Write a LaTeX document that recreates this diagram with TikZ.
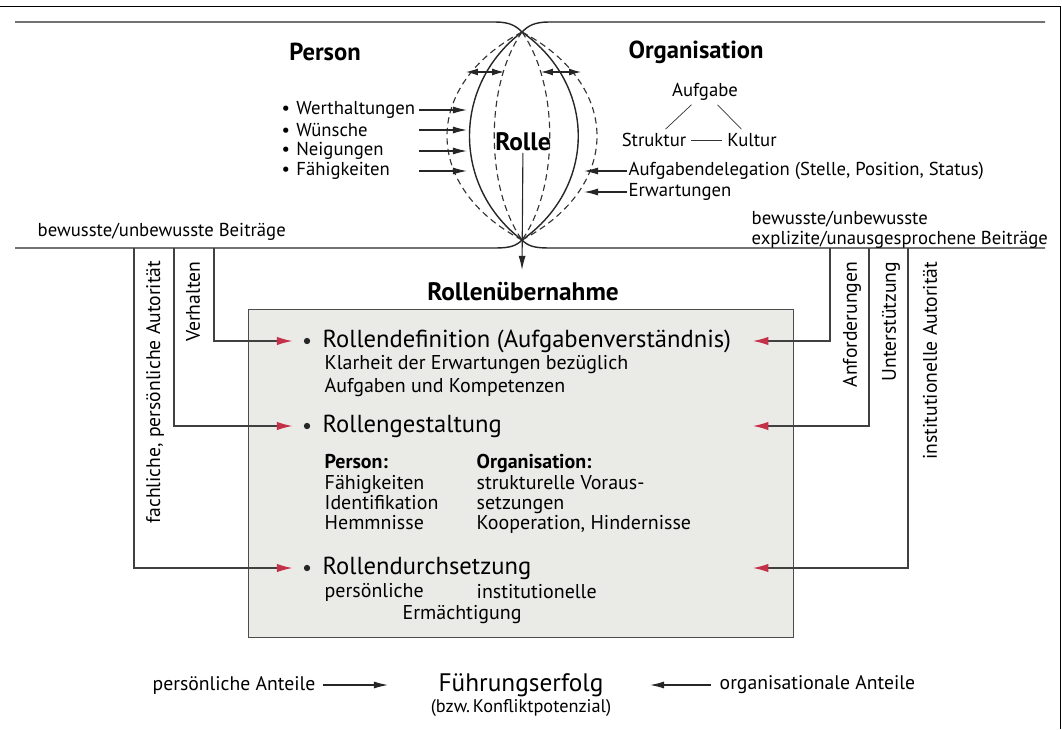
\documentclass[tikz,border=0pt]{standalone}
\usepackage{fontspec}
\setmainfont{PT Sans}
\usetikzlibrary{arrows.meta}
\definecolor{tipred}{RGB}{196,48,72}
\definecolor{boxgray}{RGB}{234,234,231}
\tikzset{
  frame/.style={line width=0.6pt, draw=black},
  lens/.style={line width=1pt, draw=black!85},
  lensdash/.style={line width=0.8pt, draw=black!80, dash pattern=on 4.5pt off 3pt},
  push/.style={line width=0.8pt, draw=black!85, -{Latex[length=10pt,width=5pt]}},
  spread/.style={line width=0.8pt, draw=black!85, {Latex[length=8.5pt,width=5pt]}-{Latex[length=8.5pt,width=5pt]}},
  feed/.style={line width=0.8pt, draw=black!75, -{Latex[length=11pt,width=6pt,color=tipred]}},
  twig/.style={line width=0.5pt, draw=black!80, shorten <=2.5pt, shorten >=2.5pt},
  heading/.style={font=\fontsize{17.5}{20}\selectfont\bfseries, inner sep=1pt},
  plain/.style={font=\fontsize{13.3}{14.5}\selectfont, inner sep=1pt},
  item/.style={font=\fontsize{17.5}{19}\selectfont, anchor=west, inner sep=1pt},
  sub/.style={font=\fontsize{14.2}{14.4}\selectfont, anchor=west, inner sep=1pt, align=left},
  side/.style={font=\fontsize{14}{16}\selectfont, rotate=90, anchor=east, inner sep=1pt},
  dot/.style={circle, fill=black!85, inner sep=0pt, minimum size=4.5pt},
  task/.style={fill=boxgray, draw=black!70, line width=0.8pt, inner sep=0pt},
}

\begin{document}
\begin{tikzpicture}[x=0.025cm, y=-0.025cm]
\useasboundingbox (0,0) rectangle (1062,729);
\draw[frame] (0,6) -- (1060,6) -- (1060,729);

% Person / Organisation band with the role lens
\coordinate (top) at (522,32);
\coordinate (bot) at (522,240);
\draw[lens] (15,22) -- (495,22) .. controls (510,22) and (516,26) .. (top)
  .. controls (597,85) and (597,187) .. (bot)
  .. controls (516,246) and (510,248) .. (495,248) -- (15,248);
\draw[lens] (1045,22) -- (549,22) .. controls (534,22) and (528,26) .. (top)
  .. controls (452,85) and (452,187) .. (bot)
  .. controls (528,246) and (534,248) .. (549,248) -- (1045,248);
\draw[lensdash] (top) .. controls (422,85) and (422,187) .. (bot);
\draw[lensdash] (top) .. controls (622,85) and (622,187) .. (bot);
\draw[lensdash] (top) .. controls (485,85) and (485,187) .. (bot);
\draw[lensdash] (top) .. controls (559,85) and (559,187) .. (bot);
\coordinate (wl) at (466,72);
\coordinate (wr) at (504,72);
\coordinate (el) at (541,72);
\coordinate (er) at (581,72);
\draw[spread] (wl) -- (wr);
\draw[spread] (el) -- (er);

\node[heading] (person) at (325,52) {Person};
\node[heading] (org) at (696,52) {Organisation};
\node[heading, font=\fontsize{18}{20}\selectfont\bfseries] (rolle) at (523,142) {Rolle};

\coordinate (lensL) at (467,0);
\coordinate (lensR) at (584,0);
\foreach \i/\txt/\y in {1/Werthaltungen/110, 2/Wünsche/130, 3/Neigungen/151, 4/Fähigkeiten/171}{
  \node[plain, anchor=west, text width=3.4cm] (w\i) at (280,\y) {\textbullet\ \txt};
  \draw[push] (w\i) -- (w\i -| lensL);
}

\node[plain] (aufgabe) at (705,92) {Aufgabe};
\node[plain] (struktur) at (654,140) {Struktur};
\node[plain] (kultur) at (752,140) {Kultur};
\draw[twig] (aufgabe) -- (struktur);
\draw[twig] (aufgabe) -- (kultur);
\draw[twig] (struktur) -- (kultur);
\node[plain, anchor=west] (deleg) at (627,171) {Aufgabendelegation (Stelle, Position, Status)};
\node[plain, anchor=west] (erw) at (627,192) {Erwartungen};
\draw[push] (deleg) -- (deleg -| lensR);
\draw[push] (erw) -- (erw -| lensR);

\node[plain, anchor=west] (beitragL) at (36,232) {bewusste/unbewusste Beiträge};
\node[plain, anchor=west, align=left] (beitragR) at (750,230) {bewusste/unbewusste\\explizite/unausgesprochene Beiträge};

% Rollenuebernahme
\draw[push] (rolle) -- (522,270);
\node[heading, font=\fontsize{18}{20}\selectfont\bfseries] (uebernahme) at (523,292) {Rollenübernahme};
\node[task, anchor=north west, minimum width=13.625cm, minimum height=8.2cm] (box) at (248,309) {};

\node[dot] (d1) at (307,341) {};
\node[dot] (d2) at (307,426) {};
\node[dot] (d3) at (307,568) {};
\node[item] (t1) at (321,341) {Rollendefinition (Aufgabenverständnis)};
\node[sub] (t1s) at (323,376) {Klarheit der Erwartungen bezüglich\\[1.4pt]Aufgaben und Kompetenzen};
\node[item] (t2) at (321,426) {Rollengestaltung};
\node[sub, anchor=north west] (pers) at (323,453) {\textbf{Person:}\\Fähigkeiten\\Identifikation\\Hemmnisse};
\node[sub, anchor=north west] (orga) at (475,453) {\textbf{Organisation:}\\strukturelle Voraus-\\setzungen\\Kooperation, Hindernisse};
\node[item] (t3) at (321,568) {Rollendurchsetzung};
\node[sub] (pe) at (323,592) {persönliche};
\node[sub] (in) at (475,592) {institutionelle};
\node[sub] (er) at (401,615) {Ermächtigung};

% left feeds
\coordinate (fL) at (134,248);
\coordinate (vL) at (174,248);
\coordinate (hL) at (214,248);
\node[side] (autP) at (155,259) {fachliche, persönliche Autorität};
\node[side] (verh) at (193,260) {Verhalten};
\draw[feed, shorten >=8pt] (hL) |- (d1);
\draw[feed, shorten >=8pt] (vL) |- (d2);
\draw[feed, shorten >=8pt] (fL) |- (d3);

% right feeds
\coordinate (aR) at (830,248);
\coordinate (uR) at (869,248);
\coordinate (iR) at (908,248);
\coordinate (r1) at (753,341);
\coordinate (r2) at (753,426);
\coordinate (r3) at (753,568);
\node[side] (anf) at (852,260) {Anforderungen};
\node[side] (unt) at (891,260) {Unterstützung};
\node[side] (autI) at (930,260) {institutionelle Autorität};
\draw[feed] (aR) |- (r1);
\draw[feed] (uR) |- (r2);
\draw[feed] (iR) |- (r3);

% outcome
\node[font=\fontsize{18}{20}\selectfont, inner sep=1pt] (erfolg) at (521,685) {Führungserfolg};
\node[font=\fontsize{13}{14}\selectfont, inner sep=1pt] (konflikt) at (521,708) {(bzw.\,Konfliktpotenzial)};
\node[font=\fontsize{14}{16}\selectfont, inner sep=1pt, anchor=west] (anteilP) at (151,685) {persönliche Anteile};
\node[font=\fontsize{14}{16}\selectfont, inner sep=1pt, anchor=west] (anteilO) at (718,685) {organisationale Anteile};
\draw[push, shorten <=4pt] (anteilP) -- (388,685);
\draw[push, shorten <=5pt] (anteilO) -- (650,685);
\end{tikzpicture}
\end{document}
